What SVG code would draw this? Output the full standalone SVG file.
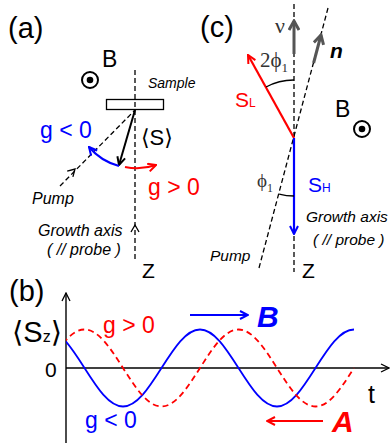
<svg xmlns="http://www.w3.org/2000/svg" width="390" height="446" viewBox="0 0 390 446">
<style>
  .sans { font-family: "Liberation Sans", Arial, sans-serif; }
  .serif { font-family: "Liberation Serif", "Times New Roman", serif; }
  .it { font-style: italic; }
  .bi { font-style: italic; font-weight: bold; }
  .br { font-family: "DejaVu Sans", sans-serif; }
  .dash { fill: none; stroke: #000; stroke-width: 1.3; stroke-dasharray: 5 3; }
  .thin { fill: none; stroke: #000; stroke-width: 1.3; }
  .red { fill: #ff0000; }
  .blue { fill: #0000ff; }
  .gray { fill: #333; }
</style>
<defs>
  <marker id="ab" viewBox="0 0 10 10" refX="9" refY="5" markerWidth="10" markerHeight="10" markerUnits="userSpaceOnUse" orient="auto">
    <path d="M1,1 L9,5 L1,9" fill="none" stroke="#000" stroke-width="2"/>
  </marker>
  <marker id="abl" viewBox="0 0 10 10" refX="9" refY="5" markerWidth="10" markerHeight="10" markerUnits="userSpaceOnUse" orient="auto">
    <path d="M1,1 L9,5 L1,9" fill="none" stroke="#0000ff" stroke-width="2"/>
  </marker>
  <marker id="ar" viewBox="0 0 10 10" refX="9" refY="5" markerWidth="10" markerHeight="10" markerUnits="userSpaceOnUse" orient="auto">
    <path d="M1,1 L9,5 L1,9" fill="none" stroke="#ff0000" stroke-width="2"/>
  </marker>
  <marker id="ag" viewBox="0 0 12 12" refX="10" refY="6" markerWidth="12" markerHeight="12" markerUnits="userSpaceOnUse" orient="auto">
    <path d="M1,1 L10,6 L1,11" fill="none" stroke="#555" stroke-width="3"/>
  </marker>
  <marker id="aax" viewBox="0 0 10 10" refX="9" refY="5" markerWidth="10" markerHeight="10" markerUnits="userSpaceOnUse" orient="auto">
    <path d="M1,1 L9,5 L1,9" fill="none" stroke="#000" stroke-width="1.3"/>
  </marker>
  <clipPath id="plot"><rect x="66" y="280" width="300" height="166"/></clipPath>
</defs>

<!-- Panel labels -->
<text class="sans" x="8" y="38" font-size="29">(a)</text>
<text class="sans" x="200" y="37" font-size="29">(c)</text>
<text class="sans" x="9" y="301" font-size="29">(b)</text>

<!-- Panel (a) -->
<g id="a-field">
  <text class="sans" x="102" y="67" font-size="23">B</text>
  <circle cx="90" cy="80" r="8" fill="none" stroke="#000" stroke-width="2"/>
  <circle cx="90" cy="80" r="3.3" fill="#000"/>
</g>
<g id="a-sample">
  <rect x="106.5" y="99.5" width="57" height="10" fill="#fff" stroke="#000" stroke-width="1.3"/>
  <text class="sans it" x="148" y="88" font-size="14">Sample</text>
</g>
<g id="a-labels">
  <text class="sans blue" x="40" y="138" font-size="23">g &lt; 0</text>
  <text class="sans red" x="148" y="195" font-size="23">g &gt; 0</text>
  <text x="141" y="145" font-size="22"><tspan class="br">⟨</tspan><tspan class="sans">S</tspan><tspan class="br">⟩</tspan></text>
  <text class="sans it" x="32" y="204" font-size="16">Pump</text>
  <text class="sans it" x="38" y="236" font-size="16">Growth axis</text>
  <text class="sans it" x="47" y="255" font-size="16">( // probe )</text>
  <text class="sans" x="142" y="278" font-size="21">Z</text>
</g>

<!-- Panel (c) -->
<g id="c-field">
  <text class="sans" x="335" y="117" font-size="23">B</text>
  <circle cx="362" cy="129" r="8" fill="none" stroke="#000" stroke-width="2"/>
  <circle cx="362" cy="129" r="3.3" fill="#000"/>
</g>
<g id="c-labels">
  <text class="serif gray" x="275" y="33" font-size="22">ν</text>
  <text class="serif gray" x="260" y="67" font-size="21">2ϕ<tspan font-size="13" dy="5">1</tspan></text>
  <text class="serif gray" x="257" y="187" font-size="19">ϕ<tspan font-size="12" dy="5">1</tspan></text>
  <text class="sans bi" x="330" y="58" font-size="21">n</text>
  <text class="sans red" x="235" y="107" font-size="21">S<tspan font-size="12">L</tspan></text>
  <text class="sans blue" x="308" y="192" font-size="21">S<tspan font-size="12">H</tspan></text>
  <text class="sans it" x="306" y="222" font-size="15.5">Growth axis</text>
  <text class="sans it" x="313" y="245" font-size="15.5">( // probe )</text>
  <text class="sans it" x="210" y="261" font-size="15.5">Pump</text>
  <text class="sans" x="302" y="278" font-size="21">Z</text>
</g>

<!-- Panel (b) -->
<g id="b-labels">
  <text x="12" y="342" font-size="29"><tspan class="br">⟨</tspan><tspan class="sans">S</tspan><tspan class="sans" font-size="16">z</tspan><tspan class="br">⟩</tspan></text>
  <text class="sans" x="45" y="377" font-size="21">0</text>
  <text class="sans" x="368" y="403" font-size="25">t</text>
  <text class="sans red" x="103" y="333" font-size="23">g &gt; 0</text>
  <text class="sans blue" x="85" y="428" font-size="23">g &lt; 0</text>
  <text class="sans bi blue" x="257" y="327" font-size="30">B</text>
  <text class="sans bi red" x="332" y="432" font-size="30">A</text>
</g>

<!-- Connectors -->
<g id="connectors">
  <!-- (a) -->
  <line class="dash" x1="135" y1="70" x2="135" y2="260"/>
  <polyline class="thin" points="131,232 135,225 139,232"/>
  <line class="dash" x1="60" y1="186" x2="135" y2="110"/>
  <polyline class="thin" points="67.2,171.2 75,169 72.9,176.8"/>
  <line x1="135" y1="110" x2="119" y2="165" stroke="#000" stroke-width="2" marker-end="url(#ab)"/>
  <path d="M119,166 A59,59 0 0 1 89,147" fill="none" stroke="#0000ff" stroke-width="2.2" marker-end="url(#abl)"/>
  <path d="M125,167 A59,59 0 0 0 156,165" fill="none" stroke="#ff0000" stroke-width="2.2" marker-end="url(#ar)"/>
  <!-- (c) -->
  <line class="dash" x1="294" y1="4" x2="294" y2="272"/>
  <line class="dash" x1="259" y1="268" x2="328" y2="8"/>
  <line x1="294" y1="54" x2="294" y2="21" stroke="#555" stroke-width="3" marker-end="url(#ag)"/>
  <line x1="313.6" y1="63" x2="321" y2="35" stroke="#555" stroke-width="3" marker-end="url(#ag)"/>
  <line x1="294" y1="138" x2="248" y2="55" stroke="#ff0000" stroke-width="2.2" marker-end="url(#ar)"/>
  <line x1="294" y1="138" x2="294" y2="234" stroke="#0000ff" stroke-width="2.2" marker-end="url(#abl)"/>
  <path d="M266,87 A58,58 0 0 1 294,80" class="thin"/>
  <path d="M279.2,194.1 A58,58 0 0 0 294,196" class="thin"/>
  <!-- (b) axes -->
  <line x1="66" y1="443" x2="66" y2="293" stroke="#000" stroke-width="1.4" marker-end="url(#aax)"/>
  <line x1="66" y1="368" x2="389" y2="368" stroke="#000" stroke-width="1.4" marker-end="url(#aax)"/>
  <!-- curves -->
  <g clip-path="url(#plot)">
    <path d="M46,329.5 c13.93,0 25.94,18.78 38.5,38.5 c12.56,19.72 24.57,38.5 38.5,38.5 c13.930,0 25.94,-18.78 38.5,-38.5 c12.56,-19.72 24.57,-38.5 38.5,-38.5 c13.93,0 25.94,18.78 38.5,38.5 c12.56,19.72 24.57,38.5 38.5,38.5 c13.93,0 25.94,-18.78 38.5,-38.5 c12.56,-19.72 24.57,-38.5 38.5,-38.5" fill="none" stroke="#0000ff" stroke-width="1.8"/>
    <path d="M46,368 c12.56,-19.72 24.57,-38.5 38.5,-38.5 c13.93,0 25.94,18.78 38.5,38.5 c12.56,19.72 24.57,38.5 38.5,38.5 c13.93,0 25.94,-18.78 38.5,-38.5 c12.56,-19.72 24.57,-38.5 38.5,-38.5 c13.93,0 25.94,18.78 38.5,38.5 c12.56,19.72 24.57,38.5 38.5,38.5 c13.93,0 25.94,-18.78 38.5,-38.5" fill="none" stroke="#ff0000" stroke-width="1.8" stroke-dasharray="6 4"/>
  </g>
  <line x1="190" y1="315" x2="248" y2="315" stroke="#0000ff" stroke-width="2" marker-end="url(#abl)"/>
  <line x1="323" y1="421" x2="267" y2="421" stroke="#ff0000" stroke-width="2" marker-end="url(#ar)"/>
</g>
</svg>
